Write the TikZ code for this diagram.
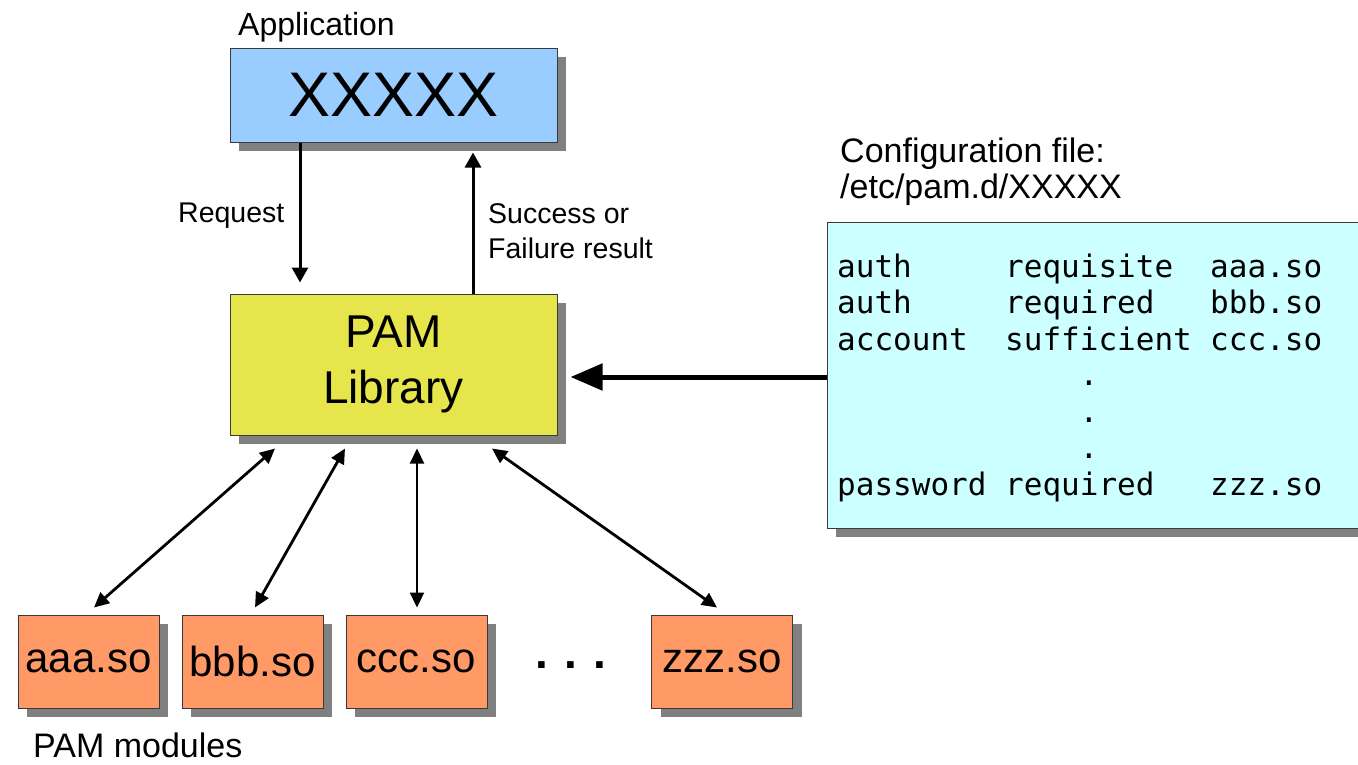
\documentclass[tikz,border=0pt]{standalone}
\usepackage{fontspec}
\setmainfont{Liberation Sans}
\newfontfamily\cfgmono{DejaVu Sans Mono}
\usetikzlibrary{arrows.meta,shadows,calc}

\definecolor{appblue}{HTML}{99CCFF}
\definecolor{libyellow}{HTML}{E6E64C}
\definecolor{modorange}{HTML}{FF9966}
\definecolor{cfgcyan}{HTML}{CCFFFF}
\definecolor{shadowgray}{HTML}{808080}
\definecolor{edgegray}{HTML}{3A3A3A}

\newcommand\fsz[2]{\fontsize{#1pt}{#2pt}\selectfont}

\tikzset{
  box/.style={draw=edgegray, line width=1pt, inner sep=0pt,
    drop shadow={shadow xshift=9pt, shadow yshift=-9pt, fill=shadowgray, opacity=1}},
  appbox/.style={box, fill=appblue, minimum width=327pt, minimum height=94pt, font=\fsz{63}{70}},
  libbox/.style={box, fill=libyellow, minimum width=327pt, minimum height=141pt, align=center, font=\fsz{46}{55}},
  cfgbox/.style={box, fill=cfgcyan, minimum width=543pt, minimum height=306pt},
  modbox/.style={box, fill=modorange, minimum width=141pt, minimum height=93pt, font=\fsz{42}{50}},
  lbl/.style={anchor=base west, inner sep=0pt},
  cfgtext/.style={anchor=base west, inner sep=0pt, font=\cfgmono\fsz{31}{36}},
  thinarrow/.style={line width=3pt, -{Triangle[length=15pt,width=16pt]}},
  bigarrow/.style={line width=5pt, -{Triangle[length=32pt,width=26pt]}},
  modarrow/.style={line width=2.8pt, {Triangle[length=15pt,width=14pt]}-{Triangle[length=15pt,width=14pt]}}
}

\begin{document}
\begin{tikzpicture}[x=1pt,y=-1pt]
\useasboundingbox (0,0) rectangle (1358,764);
\clip (0,0) rectangle (1358,764);

% Application
\node[lbl, font=\fsz{32}{38}] (applbl) at (238,35) {Application};
\node[appbox] (app) at (393.5,95) {XXXXX};

% PAM library
\node[libbox] (lib) at (393.5,364.5) {\raisebox{-2pt}{\shortstack{PAM\\[20pt]Library}}};

% Config file
\node[lbl, font=\fsz{34}{37}] (cfglbl1) at (840,162) {Configuration file:};
\node[lbl, font=\fsz{34}{37}] (cfglbl2) at (840,198) {/etc/pam.d/XXXXX};
\node[cfgbox] (cfg) at (1098.5,375) {};

\foreach \y/\a/\b/\c [count=\i] in {277/auth/requisite/aaa.so, 313/auth/required/bbb.so, 350/account/sufficient/ccc.so, 495/password/required/zzz.so} {
  \node[cfgtext] (row\i a) at (837,\y) {\a};
  \node[cfgtext] (row\i b) at (1005,\y) {\b};
  \node[cfgtext] (row\i c) at (1210,\y) {\c};
}
\foreach \y [count=\i] in {385,422,458} {
  \node[cfgtext, anchor=base] (cdot\i) at (1089,\y) {.};
}

% Modules
\node[modbox] (aaa) at (88.5,661.5) {aaa.so};
\node[modbox] (bbb) at (252.5,661.5) {bbb.so};
\node[modbox] (ccc) at (416.5,661.5) {ccc.so};
\node[modbox] (zzz) at (722,661.5) {zzz.so};
\node[inner sep=0pt, font=\bfseries\fsz{46}{56}] (mdots) at (571,665) {.\hspace{16pt}.\hspace{16pt}.};
\node[lbl, font=\fsz{34}{38}] (modlbl) at (33,757) {PAM modules};

% Request / result arrows
\node[lbl, font=\fsz{28.5}{41}] (reqlbl) at (178,222) {Request};
\node[lbl, font=\fsz{28.5}{41}] (res1) at (488,223) {Success or};
\node[lbl, font=\fsz{28.5}{41}] (res2) at (488,258) {Failure result};

\draw[thinarrow] ([xshift=-93.5pt]app.south) -- ([xshift=-93.5pt,yshift=11pt]lib.north);
\draw[thinarrow] ([xshift=79.5pt]lib.north) -- ([xshift=79.5pt,yshift=-10pt]app.south);

% Config to library
\draw[bigarrow] ([yshift=-2pt]cfg.west) -- ([xshift=13pt,yshift=-2pt]cfg.west -| lib.east);

% Library to modules
\draw[modarrow] ([xshift=-118.5pt,yshift=-13pt]lib.south) -- ([xshift=5.5pt,yshift=7pt]aaa.north);
\draw[modarrow] ([xshift=-48.5pt,yshift=-13pt]lib.south) -- ([xshift=2.5pt,yshift=7pt]bbb.north);
\draw[modarrow, line width=2.2pt] ([xshift=23.5pt,yshift=-13pt]lib.south) -- ([xshift=0.5pt,yshift=7pt]ccc.north);
\draw[modarrow] ([xshift=98.5pt,yshift=-13pt]lib.south) -- ([xshift=-5pt,yshift=7pt]zzz.north);
\end{tikzpicture}
\end{document}
